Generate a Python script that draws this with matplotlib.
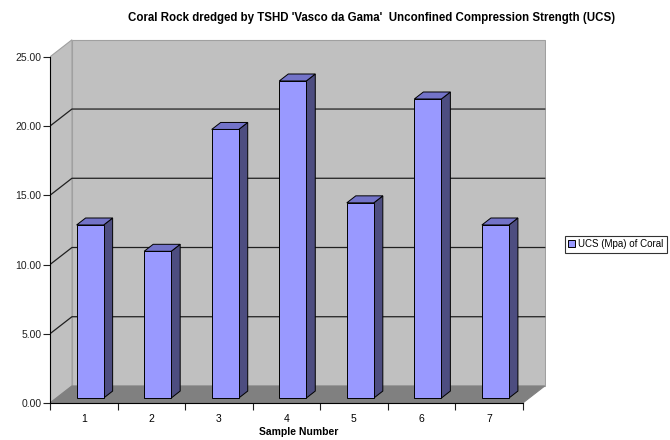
import matplotlib
matplotlib.use("Agg")
import matplotlib.pyplot as plt
from matplotlib.patches import Polygon, Patch

plt.rcParams['font.family'] = ['Liberation Sans', 'DejaVu Sans']

# donnees : resistance a la compression (MPa) par echantillon
echantillons = ["1", "2", "3", "4", "5", "6", "7"]
ucs = [12.5, 10.6, 19.4, 22.9, 14.1, 21.6, 12.5]
graduations = [0, 5, 10, 15, 20, 25]

# effet de profondeur "3D" (en unites de donnees)
DX, DY = 0.325, 1.23
D0, D1 = 0.29, 0.70      # bar occupe cette tranche de profondeur
LARG = 0.40              # largeur des barres

fig = plt.figure(figsize=(6.7, 4.4), dpi=100)
ax = fig.add_axes([0.0746, 0.0841, 0.741, 0.827])
n = len(ucs)
ymax = graduations[-1]
ax.set_xlim(0, n + 0.35)
ax.set_ylim(0, ymax + DY + 0.05)

gris = "#c0c0c0"
# paroi du fond, paroi gauche, plancher
ax.add_patch(Polygon([(DX, DY), (n + DX, DY), (n + DX, ymax + DY), (DX, ymax + DY)],
                     closed=True, fc=gris, ec="#a0a0a0", lw=0.8, zorder=1))
ax.add_patch(Polygon([(0, 0), (DX, DY), (DX, ymax + DY), (0, ymax)],
                     closed=True, fc=gris, ec="#a0a0a0", lw=0.8, zorder=1))
ax.add_patch(Polygon([(0, 0), (n, 0), (n + DX, DY), (DX, DY)],
                     closed=True, fc="#808080", ec="#808080", lw=0.8, zorder=2))

# quadrillage sur les parois
for g in graduations[1:-1]:
    ax.plot([0, DX, n + DX], [g, g + DY, g + DY], color="#202020", lw=0.9, zorder=2)

# barres : face avant, cote, dessus
for i, v in enumerate(ucs):
    x0 = i + 0.5 - LARG / 2 + D0 * DX
    x1 = x0 + LARG
    y0 = D0 * DY
    ddx = (D1 - D0) * DX
    ddy = (D1 - D0) * DY
    ax.add_patch(Polygon([(x1, y0), (x1 + ddx, y0 + ddy), (x1 + ddx, y0 + v + ddy), (x1, y0 + v)],
                         closed=True, fc="#4d4d80", ec="black", lw=0.7, zorder=3))
    ax.add_patch(Polygon([(x0, y0 + v), (x1, y0 + v), (x1 + ddx, y0 + v + ddy), (x0 + ddx, y0 + v + ddy)],
                         closed=True, fc="#7373c8", ec="black", lw=0.7, zorder=3))
    ax.add_patch(Polygon([(x0, y0), (x1, y0), (x1, y0 + v), (x0, y0 + v)],
                         closed=True, fc="#9999ff", ec="black", lw=0.7, zorder=4))

# axes avant
for s in ["top", "right"]:
    ax.spines[s].set_visible(False)
ax.spines["left"].set_bounds(0, ymax)
ax.spines["bottom"].set_bounds(0, n)
ax.spines["left"].set_zorder(5)
ax.spines["bottom"].set_zorder(5)
ax.set_yticks(graduations)
ax.set_yticklabels(["%.2f" % g for g in graduations])
ax.set_xticks(range(n + 1))
ax.set_xticklabels([])
ax.set_xticks([i + 0.5 for i in range(n)], minor=True)
ax.set_xticklabels(echantillons, minor=True)
ax.tick_params(axis="both", which="major", direction="out", length=5, width=0.8,
               labelsize=7.5, pad=1, colors="#202020")
ax.tick_params(axis="x", which="minor", length=0, labelsize=7.5, pad=8)
ax.set_xlabel("Sample Number", fontsize=7.5, fontweight="bold", labelpad=2)

fig.text(0.555, 0.96, "Coral Rock dredged by TSHD 'Vasco da Gama'  Unconfined Compression Strength (UCS)",
         ha="center", va="center", fontsize=8.3, fontweight="bold")

leg = fig.legend(handles=[Patch(fc="#9999ff", ec="black", lw=0.7, label="UCS (Mpa) of Coral")],
                 loc="center left", bbox_to_anchor=(0.843, 0.445), fontsize=7,
                 frameon=True, fancybox=False, handlelength=0.7, handleheight=0.7,
                 handletextpad=0.3, borderpad=0.35, borderaxespad=0)
leg.get_frame().set_edgecolor("black")
leg.get_frame().set_linewidth(0.8)

fig.savefig("out.png", dpi=100)
